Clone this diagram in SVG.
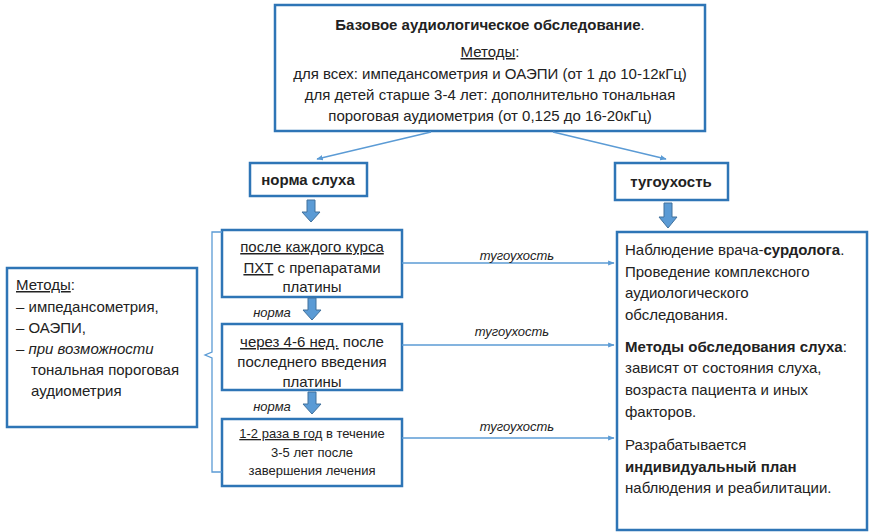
<svg xmlns="http://www.w3.org/2000/svg" width="872" height="532" viewBox="0 0 872 532">
<style>
.box{fill:#fff;stroke:#2E75B6;stroke-width:2.5}
.t{font-family:"Liberation Sans",Arial,sans-serif;font-size:15px;fill:#222}
.c{text-anchor:middle}
.b{font-weight:bold}
.i{font-style:italic}
.u{text-decoration:underline}
.lab{font-family:"Liberation Sans",Arial,sans-serif;font-size:13px;font-style:italic;fill:#222;text-anchor:middle}
.ln{stroke:#5B9BD5;stroke-width:1.3;fill:none}
.blk{fill:#5B9BD5;stroke:#41719C;stroke-width:1}
</style>
<defs>
<marker id="ah" viewBox="0 0 10 10" refX="9" refY="5" markerWidth="5" markerHeight="5" orient="auto">
<path d="M0,1 L10,5 L0,9 z" fill="#5B9BD5"/>
</marker>
</defs>

<g id="top">
<rect class="box" x="275" y="5" width="430" height="126"/>
<text class="t c" x="490" y="30"><tspan class="b">Базовое аудиологическое обследование</tspan>.</text>
<text class="t c" x="490" y="57"><tspan class="u">Методы</tspan>:</text>
<text class="t c" x="490" y="79">для всех: импедансометрия и ОАЭПИ (от 1 до 10-12кГц)</text>
<text class="t c" x="490" y="100">для детей старше 3-4 лет: дополнительно тональная</text>
<text class="t c" x="490" y="121">пороговая аудиометрия (от 0,125 до 16-20кГц)</text>
</g>

<g id="norma">
<rect class="box" x="250" y="163" width="117" height="33"/>
<text class="t c b" x="308" y="185">норма слуха</text>
</g>

<g id="tug">
<rect class="box" x="615" y="163" width="113" height="37"/>
<text class="t c b" x="671" y="187">тугоухость</text>
</g>

<g id="methods">
<rect class="box" x="7" y="268" width="190" height="159"/>
<text class="t" x="16" y="290"><tspan class="u">Методы</tspan>:</text>
<text class="t" x="16" y="312">– импедансометрия,</text>
<text class="t" x="16" y="333">– ОАЭПИ,</text>
<text class="t" x="16" y="354">– <tspan class="i">при возможности</tspan></text>
<text class="t" x="31" y="375">тональная пороговая</text>
<text class="t" x="31" y="396">аудиометрия</text>
</g>

<g id="s1">
<rect class="box" x="222" y="230" width="180" height="67"/>
<text class="t c" x="312" y="252"><tspan class="u">после каждого курса</tspan></text>
<text class="t c" x="312" y="273"><tspan class="u">ПХТ</tspan> с препаратами</text>
<text class="t c" x="312" y="292">платины</text>
</g>

<g id="s2">
<rect class="box" x="222" y="324" width="180" height="66"/>
<text class="t c" x="312" y="347"><tspan class="u">через 4-6 нед.</tspan> после</text>
<text class="t c" x="312" y="367">последнего введения</text>
<text class="t c" x="312" y="387">платины</text>
</g>

<g id="s3">
<rect class="box" x="222" y="419" width="180" height="67"/>
<text class="t c" x="312" y="438" style="font-size:13px"><tspan class="u">1-2 раза в год</tspan> в течение</text>
<text class="t c" x="312" y="457" style="font-size:13px">3-5 лет после</text>
<text class="t c" x="312" y="475" style="font-size:13px">завершения лечения</text>
</g>

<g id="result">
<rect class="box" x="617" y="232" width="250" height="298"/>
<text class="t" x="625" y="255"><tspan>Наблюдение врача-</tspan><tspan class="b">сурдолога</tspan>.</text>
<text class="t" x="625" y="277">Проведение комплексного</text>
<text class="t" x="625" y="298">аудиологического</text>
<text class="t" x="625" y="320">обследования.</text>
<text class="t" x="625" y="352"><tspan class="b">Методы обследования слуха</tspan>:</text>
<text class="t" x="625" y="373">зависят от состояния слуха,</text>
<text class="t" x="625" y="395">возраста пациента и иных</text>
<text class="t" x="625" y="417">факторов.</text>
<text class="t" x="625" y="450">Разрабатывается</text>
<text class="t b" x="625" y="472">индивидуальный план</text>
<text class="t" x="625" y="493">наблюдения и реабилитации.</text>
</g>

<g id="connectors">
<line class="ln" x1="431" y1="132" x2="317" y2="159" marker-end="url(#ah)"/>
<line class="ln" x1="553" y1="132" x2="666" y2="159" marker-end="url(#ah)"/>
<path class="blk" d="M307,200 h8 v12 h5 l-9,10 l-9,-10 h5 z"/>
<path class="blk" d="M664,203 h8 v14 h5 l-9,11 l-9,-11 h5 z"/>
<path class="blk" d="M308,298 h8 v12 h5 l-9,10 l-9,-10 h5 z"/>
<path class="blk" d="M308,392 h8 v12 h5 l-9,10 l-9,-10 h5 z"/>
<path class="ln" d="M222,232 h-10 v120 l-7,3 l7,3 v114 h10" stroke-width="1"/>
<line class="ln" x1="402" y1="263" x2="614" y2="263" marker-end="url(#ah)"/>
<line class="ln" x1="402" y1="345" x2="614" y2="345" marker-end="url(#ah)"/>
<line class="ln" x1="402" y1="438" x2="614" y2="438" marker-end="url(#ah)"/>
<text class="lab" x="517" y="260">тугоухость</text>
<text class="lab" x="512" y="336">тугоухость</text>
<text class="lab" x="517" y="431">тугоухость</text>
<text class="lab" x="272" y="317">норма</text>
<text class="lab" x="272" y="411">норма</text>
</g>
</svg>
